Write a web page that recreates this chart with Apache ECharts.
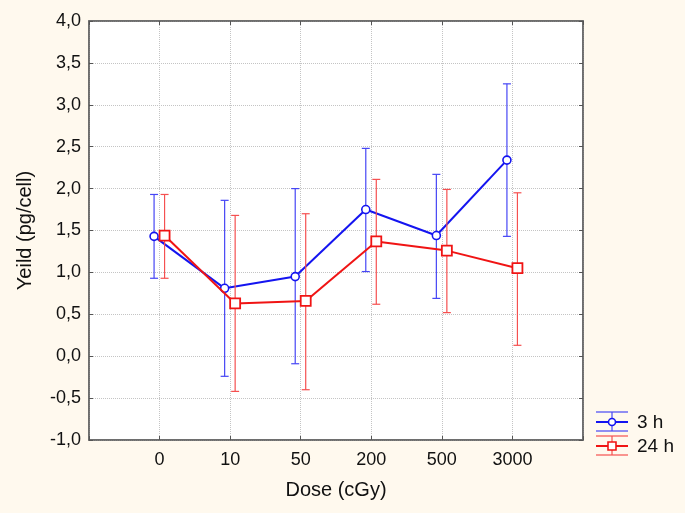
<!DOCTYPE html>
<html><head><meta charset="utf-8">
<script src="https://cdn.jsdelivr.net/npm/echarts@6/dist/echarts.min.js"></script>
<style>html,body{margin:0;padding:0;background:#FFF9EE;}#c{width:685px;height:513px;}</style>
</head><body><div id="c"></div>
<script>
const categories = ['0', '10', '50', '200', '500', '3000'];
const yTicks = [-1, -0.5, 0, 0.5, 1, 1.5, 2, 2.5, 3, 3.5, 4];
const mean3h  = [1.43, 0.81, 0.95, 1.75, 1.44, 2.34];
const low3h   = [0.93, -0.24, -0.09, 1.01, 0.69, 1.43];
const high3h  = [1.93, 1.86, 2.00, 2.48, 2.17, 3.25];
const mean24h = [1.44, 0.63, 0.66, 1.37, 1.26, 1.05];
const low24h  = [0.93, -0.42, -0.40, 0.62, 0.52, 0.13];
const high24h = [1.93, 1.68, 1.70, 2.11, 1.99, 1.95];

const axisData = [''].concat(categories, ['']);
const FONT = '"Liberation Sans", Arial, sans-serif';

function makeSeries(name, mean, low, high, color, barColor, dx, symbol) {
  const data = mean.map((v, i) => [i + 1, v, low[i], high[i]]);
  return {
    type: 'custom', name: name, z: name === '3 h' ? 2 : 3,
    data: data,
    renderItem: function (params, api) {
      const i = params.dataIndex;
      const p = api.coord([api.value(0), api.value(1)]);
      const lo = api.coord([api.value(0), api.value(2)]);
      const hi = api.coord([api.value(0), api.value(3)]);
      const x = p[0] + dx;
      const children = [];
      if (i < data.length - 1) {
        const q = api.coord([data[i + 1][0], data[i + 1][1]]);
        children.push({ type: 'line', shape: { x1: x, y1: p[1], x2: q[0] + dx, y2: q[1] },
          style: { stroke: color, lineWidth: 2 } });
      }
      const cw = 4;
      children.push({ type: 'line', shape: { x1: x, y1: lo[1], x2: x, y2: hi[1] }, style: { stroke: barColor, lineWidth: 1.2 } });
      children.push({ type: 'line', shape: { x1: x - cw, y1: lo[1], x2: x + cw, y2: lo[1] }, style: { stroke: barColor, lineWidth: 1.2 } });
      children.push({ type: 'line', shape: { x1: x - cw, y1: hi[1], x2: x + cw, y2: hi[1] }, style: { stroke: barColor, lineWidth: 1.2 } });
      if (symbol === 'circle') {
        children.push({ type: 'circle', shape: { cx: x, cy: p[1], r: 4 }, style: { fill: '#fff', stroke: color, lineWidth: 1.6 } });
      } else {
        children.push({ type: 'rect', shape: { x: x - 5, y: p[1] - 5, width: 10, height: 10 }, style: { fill: '#fff', stroke: color, lineWidth: 1.8 } });
      }
      return { type: 'group', children: children };
    }
  };
}

function legendItem(y, color, barColor, label, symbol) {
  const x0 = 596, x1 = 628, xm = 612;
  const ch = [
    { type: 'line', shape: { x1: x0, y1: y - 10, x2: x1, y2: y - 10 }, style: { stroke: barColor, lineWidth: 1.2 } },
    { type: 'line', shape: { x1: x0, y1: y + 9, x2: x1, y2: y + 9 }, style: { stroke: barColor, lineWidth: 1.2 } },
    { type: 'line', shape: { x1: xm, y1: y - 10, x2: xm, y2: y + 9 }, style: { stroke: barColor, lineWidth: 1.2 } },
    { type: 'line', shape: { x1: x0, y1: y, x2: x1, y2: y }, style: { stroke: color, lineWidth: 2 } }
  ];
  if (symbol === 'circle') ch.push({ type: 'circle', shape: { cx: xm, cy: y, r: 3.5 }, style: { fill: '#fff', stroke: color, lineWidth: 1.6 } });
  else ch.push({ type: 'rect', shape: { x: xm - 4, y: y - 4, width: 8, height: 8 }, style: { fill: '#fff', stroke: color, lineWidth: 1.6 } });
  ch.push({ type: 'text', x: 637, y: y + 1, style: { text: label, font: '19px ' + FONT, fill: '#111', verticalAlign: 'middle' } });
  return { type: 'group', children: ch };
}

const chart = echarts.init(document.getElementById('c'));
const catAxisBase = {
  type: 'category', data: axisData, boundaryGap: false,
  axisLine: { onZero: false, lineStyle: { color: '#666', width: 1.5 } },
  axisTick: { inside: true, length: 4, lineStyle: { color: '#555' } }
};
const valAxisBase = {
  type: 'value', min: -1, max: 4, interval: 0.5,
  axisLine: { show: true, onZero: false, lineStyle: { color: '#666', width: 1.5 } },
  axisTick: { show: true, inside: true, length: 4, lineStyle: { color: '#555' } }
};
chart.setOption({
  backgroundColor: '#FFF9EE',
  animation: false,
  grid: { left: 89, right: 102, top: 21, bottom: 73, show: true, backgroundColor: '#fff', borderColor: '#666', borderWidth: 1.5 },
  xAxis: [
    Object.assign({}, catAxisBase, {
      position: 'bottom',
      name: 'Dose (cGy)', nameLocation: 'middle', nameGap: 40,
      nameTextStyle: { fontFamily: FONT, fontSize: 20, color: '#111' },
      axisLabel: { fontFamily: FONT, fontSize: 18, color: '#111', margin: 11, interval: 0 },
      splitLine: { show: true, lineStyle: { type: 'dotted', color: '#c4c4c4' } }
    }),
    Object.assign({}, catAxisBase, { position: 'top', axisLabel: { show: false }, splitLine: { show: false } })
  ],
  yAxis: [
    Object.assign({}, valAxisBase, {
      position: 'left',
      name: 'Yeild (pg/cell)', nameLocation: 'middle', nameGap: 54,
      nameTextStyle: { fontFamily: FONT, fontSize: 20, color: '#111' },
      axisLabel: { fontFamily: FONT, fontSize: 18, color: '#111', margin: 8,
        formatter: v => yTicks.indexOf(v) >= 0 ? v.toFixed(1).replace('.', ',') : '' },
      splitLine: { show: true, lineStyle: { type: 'dotted', color: '#c4c4c4' } }
    }),
    Object.assign({}, valAxisBase, { position: 'right', axisLabel: { show: false }, splitLine: { show: false } })
  ],
  series: [
    makeSeries('3 h', mean3h, low3h, high3h, '#1414F0', '#4646F5', -5.5, 'circle'),
    makeSeries('24 h', mean24h, low24h, high24h, '#F01414', '#F55050', 5, 'rect')
  ],
  graphic: [
    legendItem(422, '#1414F0', '#4646F5', '3 h', 'circle'),
    legendItem(446, '#F01414', '#F55050', '24 h', 'rect')
  ]
});
</script>
</body></html>
